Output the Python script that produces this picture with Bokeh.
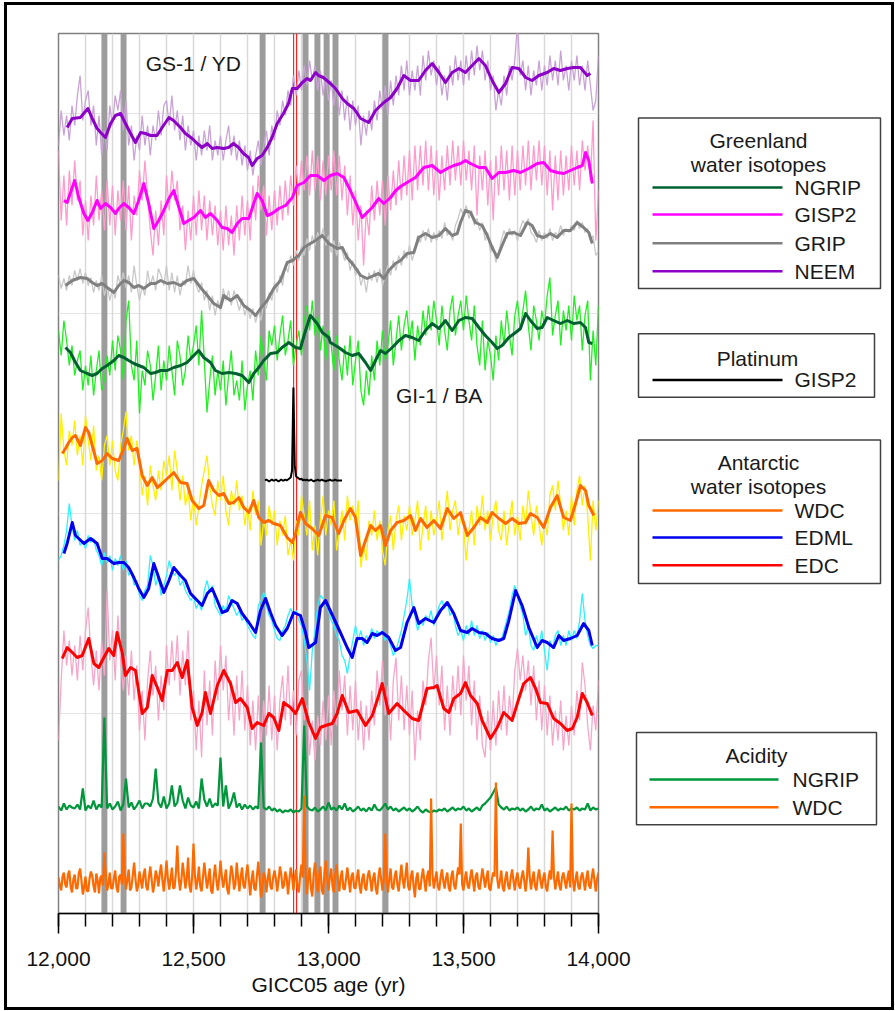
from bokeh.plotting import figure
from bokeh.models import Range1d, LinearAxis, SingleIntervalTicker, NumeralTickFormatter, Grid
from bokeh.layouts import row
from bokeh.embed import file_html
from bokeh.resources import INLINE
from bokeh.core.properties import value

FONT = "Liberation Sans"

# ---------------- data ----------------
age10 = list(range(12000, 14001, 10))
age5 = list(range(12000, 14001, 5))

# event markers (GICC05 age, yr)
event_ages = [12170, 12241, 12756, 12915, 12959, 12993, 13026, 13211]
vedde_ages = [12871, 12882]

neem_noisy = [-25, 10, -15, 5, -20, 15, -5, 25, 45, 0,
              20, 30, -5, 15, -25, 5, -35, -10, -30, 15,
              -5, 25, 10, 30, -10, 20, -25, -5, -40, -15,
              -30, 5, -25, -5, -35, -5, -20, 10, -15, 15,
              20, -5, 25, -10, 10, -20, 5, -30, -5, -25,
              -10, -40, -15, -35, -10, -30, -5, -40, -20, -35,
              -15, -40, -20, -5, -35, -15, -40, -20, -45, -25,
              -50, -30, -55, -35, -20, -45, -25, -10, -35, -5,
              -20, 10, -5, 20, 5, 30, 15, 45, 25, 50,
              30, 55, 35, 60, 40, 55, 30, 50, 25, 45,
              20, 40, 15, 35, 5, 30, 0, 25, -10, 20,
              -5, 15, -25, 5, -15, 10, -10, 20, 0, 30,
              10, 35, 5, 40, 15, 45, 25, 55, 30, 60,
              25, 50, 30, 55, 25, 65, 40, 70, 45, 60,
              35, 55, 25, 45, 20, 55, 35, 65, 40, 60,
              35, 65, 40, 70, 45, 75, 50, 70, 40, 60,
              30, 45, 10, 30, 15, 45, 25, 55, 40, 60,
              97, 45, 60, 30, 55, 25, 50, 35, 60, 30,
              55, 35, 65, 40, 60, 35, 70, 40, 55, 30,
              60, 40, 65, 35, 55, 30, 60, 35, 10, 20,
              65]
neem_smooth = [(12032, -7), (12051, 2), (12081, 3), (12109, 12), (12125, 2), (12143, -8), (12156, -12),
               (12174, -17), (12193, -3), (12211, 5), (12230, 7), (12248, -3), (12267, -13), (12285, -22),
               (12304, -12), (12322, -13), (12341, -15), (12365, -15), (12384, -7), (12409, 3), (12426, 0),
               (12452, -7), (12470, -13), (12495, -18), (12514, -23), (12532, -27), (12551, -23), (12569, -28),
               (12588, -27), (12611, -28), (12630, -27), (12648, -23), (12667, -27), (12685, -33), (12704, -37),
               (12717, -45), (12736, -38), (12754, -35), (12773, -27), (12791, -17), (12810, -3), (12833, 7),
               (12852, 17), (12866, 32), (12884, 32), (12903, 38), (12921, 42), (12933, 40), (12952, 48),
               (12963, 45), (12981, 43), (13007, 37), (13026, 32), (13051, 22), (13069, 17), (13094, 12),
               (13119, 2), (13149, -2), (13174, 10), (13205, 18), (13230, 23), (13254, 32), (13279, 45),
               (13304, 40), (13334, 40), (13359, 50), (13384, 57), (13409, 48), (13433, 38), (13458, 48),
               (13483, 52), (13507, 48), (13532, 55), (13557, 62), (13581, 55), (13606, 40), (13631, 28),
               (13656, 37), (13680, 53), (13705, 52), (13730, 43), (13754, 40), (13779, 45), (13810, 48),
               (13834, 52), (13859, 50), (13884, 52), (13908, 53), (13933, 53), (13958, 45), (13970, 47)]

gisp2_noisy = [50, -20, 25, -25, 30, -5, 40, 0, 20, -35,
               0, -40, 5, -25, 25, -20, 10, -30, 20, -25,
               15, -35, 10, -20, 20, -30, 15, -40, 5, -15,
               30, 0, 40, 5, -30, -55, -10, -45, 0, -35,
               25, -10, 30, 0, 20, -30, -5, -50, -10, -40,
               5, -35, 10, -30, 5, -40, 0, -35, -5, -45,
               -10, -50, -5, -45, -15, -55, -5, -40, 5, -35,
               0, -40, 15, -20, 25, -10, 15, -35, 5, -30,
               10, -25, 15, -20, 20, -15, 25, -5, 35, 5,
               40, 10, 45, 5, 50, 10, 45, 0, 40, 5,
               45, 10, 50, 5, 45, 0, 35, -15, 25, -25,
               10, -40, -5, -65, -10, -35, 15, -20, 20, -15,
               20, -25, 25, -10, 30, -5, 40, 0, 45, 5,
               50, 0, 55, 10, 55, 15, 60, 10, 55, 5,
               50, 0, 45, 10, 55, 15, 60, 20, 55, 15,
               60, 20, 50, 10, 55, -15, 45, 10, 50, -5,
               40, -20, 45, 5, 55, 10, 50, 0, 55, 5,
               50, 10, 55, 15, 60, 10, 55, 20, 60, 15,
               55, 5, 50, -10, 45, 0, 50, 5, 45, 10,
               55, 15, 50, 10, 60, 30, 55, 20, 80, -40,
               10]
gisp2_smooth = [(12020, 0), (12032, -2), (12051, 13), (12060, 20), (12075, 3), (12094, -13), (12109, -20),
                (12125, -12), (12143, 0), (12156, -8), (12174, -3), (12193, -7), (12211, -13), (12223, -8),
                (12242, -3), (12260, -7), (12279, -13), (12297, 0), (12316, 17), (12334, -3), (12353, -28),
                (12371, -20), (12390, -10), (12409, 2), (12427, 10), (12446, -7), (12464, -23), (12482, -20),
                (12501, -17), (12526, -10), (12544, -17), (12563, -13), (12588, -20), (12606, -27), (12625, -28),
                (12643, -32), (12662, -23), (12680, -18), (12705, -18), (12723, -3), (12736, 7), (12754, 0),
                (12773, -15), (12791, -13), (12816, -8), (12841, -5), (12866, 3), (12884, 15), (12909, 18),
                (12933, 25), (12958, 25), (12983, 20), (13007, 25), (13032, 27), (13057, 23), (13081, 10),
                (13106, -5), (13125, -17), (13143, -12), (13162, -7), (13186, 2), (13205, -3), (13230, 3),
                (13249, 10), (13267, 14), (13291, 18), (13322, 23), (13353, 33), (13384, 35), (13415, 28),
                (13440, 32), (13464, 35), (13489, 37), (13507, 40), (13526, 37), (13557, 33), (13581, 33),
                (13606, 22), (13631, 28), (13656, 28), (13686, 30), (13711, 28), (13742, 32), (13773, 37),
                (13797, 38), (13822, 30), (13847, 28), (13871, 27), (13896, 30), (13921, 33), (13940, 35),
                (13952, 48), (13964, 40), (13977, 17)]

grip_noisy = [5, -8, 2, -10, 5, -5, 10, 0, 12, -3,
              8, -5, 3, -12, 0, -10, 5, -15, -5, -20,
              -8, -18, 5, -5, 8, -8, 5, -12, 15, -5,
              -20, -5, -15, 10, -5, 5, -10, 12, 5, -5,
              15, -10, 8, -12, 5, -15, 0, -5, 15, -3,
              10, -5, -12, -2, -20, -10, -30, -15, -35, -20,
              -30, -8, -20, -10, -25, -10, -20, -30, -18, -35,
              -25, -38, -28, -42, -30, -40, -22, -28, -12, -20,
              -2, -12, 5, -5, 15, 8, 25, 15, 30, 20,
              35, 25, 42, 30, 45, 35, 48, 40, 52, 35,
              45, 28, 40, 25, 38, 30, 20, 28, 10, 20,
              5, 12, -5, 5, -12, 8, 0, 10, -2, 12,
              -5, 5, 15, 5, 20, 10, 25, 15, 30, 22,
              35, 20, 30, 45, 38, 50, 40, 52, 38, 48,
              40, 50, 42, 58, 45, 50, 40, 55, 62, 72,
              65, 75, 62, 70, 55, 62, 50, 58, 40, 48,
              28, 35, 18, 28, 40, 50, 42, 52, 45, 50,
              40, 52, 60, 55, 62, 48, 45, 38, 50, 40,
              48, 42, 52, 40, 48, 45, 55, 45, 52, 48,
              55, 50, 60, 52, 58, 48, 52, 40, 45, 25,
              30]
grip_smooth = [(12026, -5), (12051, 0), (12081, 3), (12106, 2), (12125, -2), (12143, -5), (12162, -3),
               (12180, -7), (12205, -12), (12223, -5), (12242, 0), (12260, -2), (12279, -7), (12297, -5),
               (12316, -8), (12341, -3), (12359, -3), (12378, 0), (12403, -3), (12427, -2), (12452, -5),
               (12476, 0), (12501, 2), (12526, -7), (12551, -15), (12575, -23), (12600, -27), (12612, -15),
               (12637, -20), (12662, -15), (12686, -25), (12711, -30), (12730, -35), (12748, -28), (12773, -20),
               (12797, -8), (12822, 0), (12847, 18), (12866, 20), (12890, 25), (12909, 33), (12933, 37),
               (12952, 40), (12977, 45), (13001, 37), (13032, 32), (13051, 33), (13069, 23), (13094, 15),
               (13119, 5), (13143, 2), (13168, 5), (13186, 7), (13205, 2), (13223, 10), (13248, 17),
               (13267, 20), (13291, 27), (13316, 28), (13334, 43), (13359, 47), (13384, 43), (13409, 45),
               (13433, 52), (13458, 45), (13477, 47), (13489, 58), (13507, 70), (13526, 68), (13544, 58),
               (13569, 55), (13588, 45), (13606, 33), (13625, 23), (13643, 35), (13662, 47), (13686, 48),
               (13711, 45), (13736, 58), (13754, 55), (13773, 45), (13797, 43), (13822, 47), (13847, 43),
               (13871, 50), (13896, 50), (13921, 58), (13945, 53), (13964, 48), (13977, 37)]

ngrip_noisy = [20, -5, 30, 10, -15, 5, -25, -10, 0, -40,
               -15, -35, -5, -45, -20, 0, -40, -30, -5, -25,
               10, -20, 15, 0, -30, 30, 50, -15, -30, 10,
               -63, -20, -35, 0, -15, -50, -25, 5, -40, -10,
               -30, 5, -20, -45, 10, -5, -35, -20, 15, -10,
               5, 25, -15, 40, -10, -62, -30, -5, -45, -20,
               -40, -10, -55, -25, 0, -45, -30, -50, -10, -60,
               -35, -20, -50, 0, -25, 15, -10, -30, 20, 5,
               25, -10, 15, 35, -5, 10, 30, -15, 5, 20,
               -5, 30, 45, 20, 50, 15, 35, 0, 25, -10,
               20, 5, -20, 15, -10, -30, 5, -25, 15, -35,
               -10, 10, -40, -55, -20, -45, -5, -30, 10, -15,
               20, -10, 5, 30, -15, 10, 35, 0, 25, 40,
               10, 30, -10, 25, 5, 40, 15, 45, 20, 50,
               30, 5, 45, 20, 0, 40, 55, 15, 35, 50,
               20, 55, 30, 10, 45, 5, -15, 30, -20, 10,
               -5, -30, 15, -10, 30, 5, 40, 15, -5, 35,
               50, 20, 40, 60, 25, 0, 45, 30, 10, 40,
               25, 55, 73, 15, 35, 50, 5, 40, 20, 45,
               10, 55, 30, 45, 0, 35, 50, -30, 20, -15,
               45]
ngrip_smooth = [(12026, 3), (12044, -2), (12063, -12), (12081, -20), (12106, -23), (12125, -25), (12143, -23),
                (12162, -18), (12180, -15), (12205, -10), (12223, -5), (12242, -7), (12260, -10), (12279, -13),
                (12297, -15), (12316, -17), (12341, -23), (12359, -22), (12378, -20), (12403, -20), (12427, -17),
                (12452, -15), (12476, -12), (12501, -5), (12519, 0), (12538, -7), (12563, -12), (12581, -20),
                (12606, -23), (12631, -22), (12656, -23), (12680, -25), (12705, -32), (12723, -23), (12742, -17),
                (12760, -10), (12785, -3), (12810, -2), (12828, 3), (12853, 8), (12878, 3), (12896, 2),
                (12915, 20), (12933, 35), (12958, 27), (12977, 18), (13001, 13), (13007, 8), (13038, 3),
                (13063, -2), (13088, -5), (13112, -3), (13137, -12), (13156, -20), (13174, -10), (13193, 0),
                (13211, -3), (13236, 3), (13261, 10), (13285, 15), (13310, 13), (13334, 10), (13359, 20),
                (13384, 27), (13409, 22), (13433, 30), (13458, 20), (13483, 30), (13507, 33), (13532, 32),
                (13557, 23), (13581, 15), (13606, 8), (13625, 2), (13643, 5), (13668, 13), (13693, 18),
                (13711, 22), (13730, 37), (13748, 30), (13773, 22), (13791, 23), (13810, 33), (13834, 30),
                (13859, 27), (13884, 30), (13908, 27), (13933, 28), (13952, 23), (13964, 8), (13977, 7)]

pt_age = list(range(12765, 13051, 5))
pt_val = [0, 1, 0, -1, 0, 1, 0, 0, 1, 0,
          -1, 0, 1, 0, 0, 1, 0, 1, 2, 3,
          10, 93, 15, 4, 3, 2, 1, 2, 0, 1,
          0, 1, 0, 0, 1, 0, -1, 0, 0, 1,
          0, 0, 1, 0, 0, -1, 0, 0, 1, 0,
          0, 0, 1, 0, 0, 0, 0, 0]

wdc_noisy = [0, 67, 30, 15, 50, 35, 60, 25, 45, 15,
             65, 40, 20, 55, 10, 25, 0, 35, 45, 15,
             40, 10, 0, 35, 50, 69, 30, 45, 15, 40,
             20, -15, 5, -25, 15, -5, -20, 10, -10, 20,
             5, 25, -10, 30, 10, -20, 5, -25, -10, -40,
             -15, -45, -25, -5, 10, 25, -5, -25, -35, 0,
             -20, 5, -30, -45, -10, -25, 0, -30, -15, -45,
             -25, -50, -10, -35, -20, -65, -40, -55, -25, -45,
             -30, -65, -40, -55, -35, -75, -60, -80, -40, -55,
             -15, -35, -55, -20, -70, -45, -75, -40, -15, -55,
             -30, -45, -20, -70, -50, -30, -60, -15, -40, -25,
             -45, -20, -87, -65, -80, -40, -55, -30, -60, -40,
             -70, -85, -50, -35, -70, -40, -25, -60, -35, -50,
             -25, -55, -40, -20, -70, -45, -25, -60, -30, -55,
             -40, -20, -60, -35, -10, -50, -30, -20, -55, -35,
             -45, -80, -50, -30, -65, -25, -45, -15, -50, -30,
             -60, -35, -20, -50, -60, -30, -65, -40, -20, -55,
             -35, -60, -25, -45, -10, -35, -55, -25, -45, -65,
             -40, -55, -15, -5, -30, 0, -25, -50, -30, -55,
             -15, -45, -10, 5, -25, -5, -35, -80, -20, -50,
             -20]
wdc_smooth = [(12014, 27), (12026, 32), (12038, 38), (12051, 43), (12063, 45), (12081, 35), (12100, 53),
              (12112, 48), (12125, 35), (12143, 17), (12162, 20), (12180, 27), (12199, 22), (12223, 20),
              (12242, 32), (12254, 42), (12273, 30), (12291, 32), (12310, 5), (12329, -5), (12347, 3),
              (12366, -7), (12384, -3), (12403, 2), (12427, 8), (12452, -2), (12476, -3), (12495, -20),
              (12520, -28), (12538, -25), (12556, 0), (12575, -10), (12594, -15), (12612, -13), (12631, -23),
              (12649, -22), (12668, -17), (12686, -27), (12705, -32), (12723, -20), (12742, -37), (12760, -42),
              (12779, -40), (12797, -43), (12822, -45), (12847, -57), (12866, -62), (12878, -53), (12896, -32),
              (12915, -43), (12939, -48), (12964, -55), (12989, -35), (13013, -37), (13038, -53), (13057, -40),
              (13081, -28), (13100, -37), (13119, -75), (13137, -60), (13156, -45), (13174, -50), (13193, -45),
              (13211, -65), (13230, -50), (13254, -42), (13279, -40), (13304, -35), (13322, -50), (13341, -38),
              (13365, -47), (13390, -40), (13415, -48), (13440, -28), (13464, -38), (13489, -32), (13514, -55),
              (13538, -47), (13563, -37), (13588, -42), (13606, -32), (13631, -38), (13656, -43), (13680, -38),
              (13705, -43), (13730, -42), (13748, -33), (13773, -37), (13797, -47), (13822, -27), (13847, -15),
              (13871, -37), (13896, -40), (13915, -23), (13933, -5), (13952, -10), (13964, -25), (13983, -35)]

edml_noisy = [40, 45, 55, 70, 97, 75, 60, 70, 55, 60,
              52, 65, 58, 62, 50, 45, 35, 48, 38, 45,
              30, 42, 35, 45, 30, 40, 25, 30, 15, 20,
              5, 0, 10, 15, 45, 35, 15, 25, 5, 15,
              25, 40, 30, 25, 30, 15, 20, 10, 5, 0,
              5, -8, -2, -10, 10, 20, 8, 15, -5, -10,
              -15, -5, -12, 5, -2, -8, -15, -10, -20, -15,
              -25, -30, -35, -38, -5, 0, 8, -5, -15, -20,
              -30, -38, -40, -30, -25, -15, -8, -15, -10, -20,
              -25, -40, -60, -90, -50, -30, -5, 5, 2, -5,
              -10, -20, -25, -35, -40, -55, -60, -73, -55, -40,
              -25, -40, -30, -45, -35, -40, -28, -38, -30, -35,
              -30, -40, -35, -45, -55, -50, -40, -30, -15, 0,
              22, -5, -15, -30, -20, -25, -15, -20, -10, -25,
              -15, -5, 0, -8, -2, -15, -10, -25, -35, -30,
              -40, -25, -35, -20, -35, -25, -38, -30, -40, -32,
              -42, -35, -45, -38, -40, -30, -20, -10, 5, 15,
              5, -5, -15, -35, -25, -45, -50, -35, -45, -30,
              -50, -70, -40, -48, -35, -30, -45, -35, -45, -30,
              -40, -30, -38, -20, 7, -20, -35, -45, -48, -45,
              -45]
edml_smooth = [(12020, 47), (12032, 57), (12051, 78), (12063, 65), (12075, 62), (12094, 57), (12119, 62),
               (12143, 57), (12162, 42), (12180, 42), (12205, 37), (12223, 38), (12242, 38), (12260, 33),
               (12279, 23), (12297, 12), (12316, 3), (12334, 12), (12353, 37), (12371, 23), (12390, 8),
               (12409, 20), (12427, 33), (12452, 25), (12470, 20), (12489, 7), (12514, 0), (12532, -5),
               (12551, 7), (12569, 12), (12588, 0), (12606, -12), (12625, -10), (12643, 0), (12662, -3),
               (12680, -13), (12705, -22), (12730, -32), (12748, -10), (12767, 2), (12785, -12), (12804, -25),
               (12828, -35), (12847, -28), (12871, -12), (12896, -15), (12915, -32), (12927, -47), (12952, -42),
               (12970, -7), (12989, 0), (13020, -18), (13044, -32), (13069, -47), (13088, -57), (13106, -38),
               (13125, -38), (13143, -42), (13162, -33), (13180, -35), (13199, -32), (13223, -37), (13248, -50),
               (13267, -47), (13291, -22), (13316, -7), (13334, -23), (13359, -18), (13390, -22), (13415, -10),
               (13440, -2), (13464, -13), (13489, -30), (13514, -32), (13532, -28), (13557, -32), (13581, -33),
               (13606, -38), (13631, -40), (13649, -38), (13668, -20), (13693, 10), (13717, -5), (13742, -27),
               (13773, -47), (13791, -40), (13810, -42), (13834, -47), (13853, -35), (13871, -40), (13896, -38),
               (13921, -35), (13945, -23), (13964, -30), (13977, -45)]

edc_noisy = [-40, 20, 70, 35, 60, 25, 55, 20, 65, 30,
             70, 93, 45, 15, 50, 10, 60, 25, 110, 40,
             70, 20, 85, 40, 10, 45, 5, 50, 0, 35,
             -30, 10, -40, 20, 50, 5, 35, -20, 25, -10,
             55, 15, 60, 20, 65, 5, 50, 15, 70, -20,
             10, -50, 0, -57, 30, -25, 20, -35, 40, 0,
             55, 10, 45, -20, 20, -35, 25, -20, 30, -30,
             15, -45, 0, -50, 5, -45, 0, -35, 15, -40,
             5, -50, 0, 25, -20, 35, -25, 10, -35, 20,
             30, -20, -5, -55, -20, -60, -15, -45, 0, -40,
             5, -45, 10, -25, 30, -10, 25, -35, 15, -30,
             20, -40, 0, -50, -5, -40, 10, -25, 30, -5,
             40, -15, 15, -40, 20, 43, -20, 25, -30, 15,
             -35, 10, -60, -10, -40, 20, -5, 40, 63, 10,
             45, -5, 35, -30, 15, -35, 25, -10, 35, -15,
             45, 0, 35, -25, 20, -40, 5, -45, -57, -10,
             -50, 0, -45, 10, -30, 15, -35, 5, -20, 30,
             52, 20, 45, 10, 40, -5, 35, -20, 20, -30,
             15, -35, 5, -45, -10, -40, 0, -50, -15, -45,
             -5, -35, 10, -20, 38, 15, -25, -50, -5, -30,
             20]
edc_smooth = [(12014, 42), (12032, 53), (12051, 48), (12069, 43), (12088, 45), (12112, 62), (12131, 37),
              (12149, 33), (12168, 43), (12186, 52), (12205, 45), (12217, 68), (12236, 48), (12248, 25),
              (12267, 33), (12285, 30), (12310, -13), (12329, -7), (12347, 25), (12366, 13), (12384, 0),
              (12403, 30), (12421, 30), (12440, 38), (12458, 23), (12477, 40), (12495, -7), (12514, -25),
              (12532, -12), (12544, 8), (12563, -13), (12588, 15), (12612, 30), (12637, 17), (12656, -2),
              (12674, 2), (12699, -7), (12717, -28), (12736, -22), (12760, -25), (12779, -13), (12797, -17),
              (12816, -30), (12834, -2), (12859, -7), (12878, -13), (12903, 2), (12927, -22), (12952, -38),
              (12970, -27), (12989, -25), (13014, -23), (13032, -13), (13051, 5), (13075, -12), (13106, -10),
              (13137, -25), (13162, -15), (13180, 0), (13199, 17), (13223, -13), (13254, -3), (13279, -10),
              (13310, -18), (13334, -20), (13365, 12), (13390, 13), (13402, 15), (13427, -8), (13446, -12),
              (13464, 2), (13489, 7), (13507, 18), (13526, 5), (13551, -3), (13569, -20), (13600, -38),
              (13625, -27), (13649, -12), (13680, -20), (13705, 2), (13723, 17), (13748, 23), (13767, 12),
              (13785, -2), (13810, -3), (13834, -18), (13859, -23), (13884, -30), (13903, -28), (13921, -17),
              (13940, 7), (13958, -2), (13977, -15)]

acid_ngrip = [6, 2, 9, 3, 7, 5, 4, 8, 3, 24,
              2, 7, 4, 12, 3, 8, 5, 95, 4, 9,
              3, 6, 11, 2, 8, 34, 5, 10, 3, 7,
              12, 4, 9, 9, 6, 14, 44, 10, 5, 16,
              4, 9, 27, 6, 10, 27, 12, 4, 15, 7,
              5, 11, 4, 34, 13, 6, 14, 5, 9, 7,
              55, 6, 27, 4, 10, 20, 5, 9, 3, 8,
              4, 7, 3, 6, 4, 70, 5, 3, 6, 2,
              4, 1, 3, 0, 2, 1, 3, 0, 2, 1,
              4, 87, 6, 3, 2, 5, 1, 3, 6, 2,
              10, 3, 5, 2, 7, 3, 9, 2, 5, 1,
              3, 6, 2, 4, 1, 5, 2, 8, 3, 2,
              5, 9, 3, 6, 2, 4, 1, 3, 5, 2,
              4, 1, 3, 6, 2, 0, 3, 1, 0, 2,
              1, 3, 2, 4, 1, 3, 5, 2, 4, 3,
              6, 2, 4, 1, 3, 5, 2, 7, 9, 12,
              15, 20, 25, 8, 5, 3, 6, 2, 4, 3,
              5, 2, 4, 1, 3, 6, 2, 4, 3, 8,
              2, 4, 1, 3, 5, 2, 4, 3, 6, 2,
              4, 3, 5, 2, 4, 3, 9, 2, 5, 3,
              4]
acid_wdc = [5, -3, -8, 6, 10, -2, -5, 8, 12, -4, -10, 3, 8, -6, -6, 9, 14, 2, -12, -5,
            6, -8, -9, 4, 11, 7, -4, -10, 9, 2, -11, 5, 7, -3, 30, 8, -8, -2, 10, -6,
            -6, 4, 12, -5, -10, 6, 8, -2, 49, 10, -7, 3, 13, -8, -5, 7, 20, 4, -9, -3,
            11, 2, -6, 8, 14, -4, -8, 5, 16, 3, -10, -2, 12, 6, -4, 9, 18, 2, -9, 5,
            22, 4, -7, 3, 15, -6, -5, 10, 37, 6, -8, 2, 20, 8, -6, 4, 25, -3, -10, 6,
            39, 8, -7, 2, 16, -4, -9, 5, 20, 7, -6, 3, 14, -8, -11, 6, 18, 2, -8, 4,
            22, 6, -5, 3, 13, -7, -12, 4, 17, 9, -7, -2, 20, 5, -9, 6, 15, -3, -6, 8,
            18, 3, -13, 2, 12, -6, -8, 7, 21, 4, -15, -5, 10, 6, -10, 3, 14, -4, -7, 5,
            12, 4, -9, 2, 16, 8, -6, -3, 11, 5, -12, 2, 15, 6, -8, 4, 13, -5, -10, 7,
            18, 5, 87, 10, -12, 4, 15, -6, -14, 8, 20, 3, -10, 6, 16, -7, -12, 9, 22, 4,
            -8, 6, 14, -4, -10, 7, 18, 3, -9, 5, 12, -6, -7, 4, 15, 2, -10, 6, 10, -5,
            -6, 5, 13, -3, -11, 4, 9, -5, -8, 6, 12, 2, -9, 4, 10, -6, -12, 5, 15, 3,
            -8, 4, 49, 6, -10, 3, 14, -5, -7, 6, 12, -2, -9, 5, 18, 3, -6, 7, 20, -4,
            -8, 5, 12, -3, -15, 4, 10, -6, -7, 5, 14, 2, -9, 6, 12, -4, 84, 8, -6, 3,
            11, -4, -8, 5, 13, 2, -6, 4, 10, -5, -9, 6, 12, -3, -7, 5, 15, 8, 59, -2,
            -8, 4, 11, -3, -6, 5, 13, 2, -9, 6, 10, -4, -7, 3, 14, 5, -5, 4, 12, -6,
            -8, 3, 10, 6, 100, 4, -6, 2, 12, -5, -9, 4, 11, -3, -7, 5, 13, 2, -8, 4,
            10, -3, -6, 5, 12, 2, -9, 4, 35, 6, -7, 3, 11, -4, -8, 5, 13, 2, -6, 4,
            10, -5, -9, 4, 12, 3, 52, 6, -7, 2, 11, -3, -8, 5, 10, 2, -6, 4, 12, -5,
            79, 4, -9, 3, 11, -4, -7, 5, 10, 2, -8, 4, 12, -3, -6, 5, 14, 2, -9, 4,
            10]

# ---------------- styling / layout ----------------
Y_TOP = 880          # vertical extent of the stacked panel (screen-like units)
offsets = {"NEEM": 793, "GISP2": 713, "GRIP": 633, "NGRIP": 563, "PT": 433,
           "WDC": 433, "EDML": 313, "EDC": 213, "AC_NGRIP": 101, "AC_WDC": 31}

p = figure(width=632, height=1011, x_range=Range1d(12000, 14000), y_range=Range1d(0, Y_TOP),
           output_backend="svg", toolbar_location=None, x_axis_location=None, y_axis_location=None,
           min_border_left=58, min_border_right=34, min_border_top=33, min_border_bottom=98)
p.outline_line_color = "#808080"
p.outline_line_width = 1.5
p.background_fill_color = "white"
p.border_fill_color = "white"
p.add_layout(Grid(dimension=0, ticker=SingleIntervalTicker(interval=100),
                  grid_line_color="#d9d9d9", grid_line_width=1.5))

# event bars and the two thin red lines
p.vbar(x=event_ages, width=22, bottom=0, top=Y_TOP, fill_color="#9c9c9c", line_color=None)
p.segment(x0=vedde_ages, y0=[0] * len(vedde_ages), x1=vedde_ages, y1=[Y_TOP] * len(vedde_ages),
          line_color="#ff0000", line_width=1)


def shift(vals, key):
    return [v + offsets[key] for v in vals]


noisy = [("NEEM", neem_noisy, "#c9a3d6"), ("GISP2", gisp2_noisy, "#ff9acb"),
         ("GRIP", grip_noisy, "#c8c8c8"), ("NGRIP", ngrip_noisy, "#22ee22"),
         ("WDC", wdc_noisy, "#ffee00"), ("EDML", edml_noisy, "#2ef0ff"),
         ("EDC", edc_noisy, "#f7a6c9")]
for key, vals, col in noisy:
    p.line(age10, shift(vals, key), line_color=col, line_width=1.3)

smooth = [("NEEM", neem_smooth, "#8c00c8"), ("GISP2", gisp2_smooth, "#ff00ff"),
          ("GRIP", grip_smooth, "#808080"), ("NGRIP", ngrip_smooth, "#00602f"),
          ("WDC", wdc_smooth, "#ff6a00"), ("EDML", edml_smooth, "#0000ee"),
          ("EDC", edc_smooth, "#ff0000")]
for key, pairs, col in smooth:
    xs = [a for a, _ in pairs]
    ys = [v + offsets[key] for _, v in pairs]
    p.line(xs, ys, line_color=col, line_width=3, line_join="round")

p.line(pt_age, shift(pt_val, "PT"), line_color="black", line_width=2)
p.line(age10, shift(acid_ngrip, "AC_NGRIP"), line_color="#00963c", line_width=2.2)
p.line(age5, shift(acid_wdc, "AC_WDC"), line_color="#ff6a00", line_width=2.2)

p.text(x=[12500, 13410], y=[850, 518], text=["GS-1 / YD", "GI-1 / BA"],
       text_font=value(FONT), text_font_size=value("21px"), text_color="#1a1a1a",
       text_align="center", text_baseline="middle")

ax = LinearAxis(ticker=SingleIntervalTicker(interval=500, num_minor_ticks=5),
                formatter=NumeralTickFormatter(format="0,0"), axis_label="GICC05 age (yr)")
ax.axis_line_color = "black"
ax.axis_line_width = 1.5
ax.major_tick_in = 0
ax.major_tick_out = 20
ax.minor_tick_in = 0
ax.minor_tick_out = 13
ax.major_tick_line_color = "black"
ax.major_tick_line_width = 1.5
ax.minor_tick_line_color = "black"
ax.minor_tick_line_width = 1.5
ax.major_label_text_font = FONT
ax.major_label_text_font_size = "21px"
ax.major_label_text_color = "#111111"
ax.major_label_standoff = 18
ax.axis_label_text_font = FONT
ax.axis_label_text_font_size = "21px"
ax.axis_label_text_font_style = "normal"
ax.axis_label_text_color = "#111111"
ax.axis_label_standoff = 4
p.add_layout(ax, "below")

# ---------------- legend panel ----------------
lg = figure(width=263, height=1011, x_range=Range1d(632, 895), y_range=Range1d(1011, 0),
            output_backend="svg", toolbar_location=None, x_axis_location=None, y_axis_location=None,
            min_border=0)
lg.outline_line_color = None
lg.grid.visible = False

box_l = [638, 638, 638, 636]
box_r = [880, 874, 880, 876]
box_t = [97, 345, 467, 803]
box_b = [293, 418, 632, 909]
lg.quad(left=box_l, right=box_r, top=box_t, bottom=box_b, fill_color=None,
        line_color="#404040", line_width=1.5)

titles = ["Greenland", "water isotopes", "Platinum", "Antarctic", "water isotopes", "Acidity"]
title_x = [758, 758, 757, 758, 758, 756]
title_y = [123, 150, 373, 493, 520, 829]
lg.text(x=title_x, y=title_y, text=titles, text_font=value(FONT), text_font_size=value("21px"),
        text_color="#1a1a1a", text_align="center", text_baseline="middle")

item_labels = ["NGRIP", "GISP2", "GRIP", "NEEM", "GISP2", "WDC", "EDML", "EDC", "NGRIP", "WDC"]
item_colors = ["#00602f", "#ff00ff", "#808080", "#8c00c8", "#000000", "#ff6a00", "#0000ee",
               "#ff0000", "#00963c", "#ff6a00"]
item_y = [177, 208, 241, 273, 398, 548, 579, 611, 857, 889]
item_x0 = [652] * 8 + [649, 649]
item_x1 = [782] * 8 + [778, 778]
item_tx = [794] * 8 + [792, 792]
lg.segment(x0=item_x0, y0=item_y, x1=item_x1, y1=item_y, line_color=item_colors, line_width=2.5)
lg.text(x=item_tx, y=item_y, text=item_labels, text_font=value(FONT), text_font_size=value("21px"),
        text_color="#1a1a1a", text_align="left", text_baseline="middle")

layout = row(p, lg)
html = file_html(layout, INLINE, "Greenland and Antarctic records")
frame_div = ('<div style="position:fixed;left:4px;top:2px;width:890px;height:1008px;'
             'box-sizing:border-box;border:3px solid #000;pointer-events:none;z-index:1000"></div>')
cut = html.rfind("</body>")
if cut != -1:
    html = html[:cut] + frame_div + html[cut:]
open("out.html", "w").write(html)
